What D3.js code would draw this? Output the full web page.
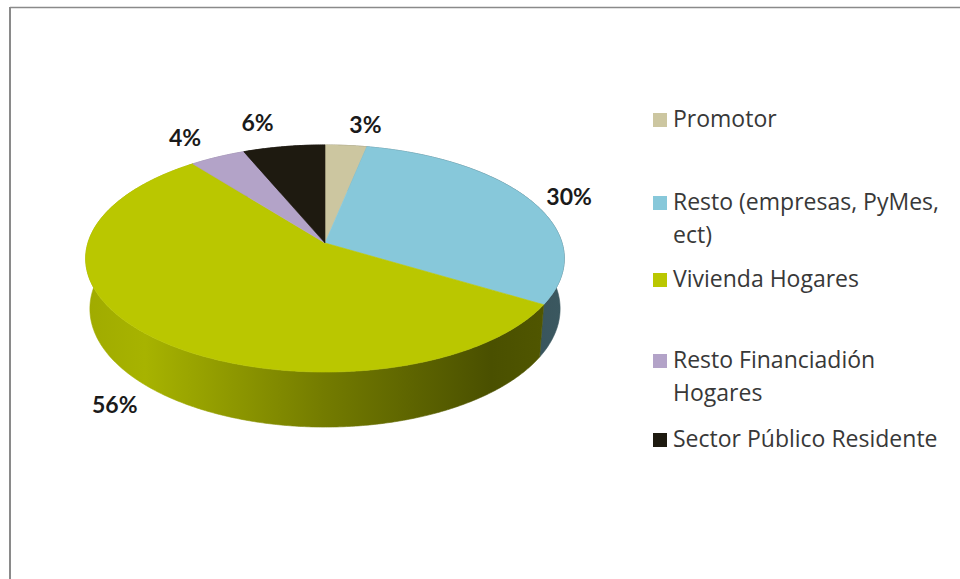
<!DOCTYPE html>
<html>
<head>
<meta charset="utf-8">
<script src="https://cdn.jsdelivr.net/npm/d3@7"></script>
<style>
  html, body { margin: 0; padding: 0; background: #fff; }
  svg { display: block; }
</style>
</head>
<body>
<svg id="chart" width="960" height="579"></svg>
<script>
// ---- data ----
const categories = ["Promotor", "Resto (empresas, PyMes, ect)", "Vivienda Hogares", "Resto Financiadión Hogares", "Sector Público Residente"];
const values = [3.2, 30.4, 55.8, 4.3, 6.3];
const legendLines = [["Promotor"], ["Resto (empresas, PyMes,", "ect)"], ["Vivienda Hogares"], ["Resto Financiadión", "Hogares"], ["Sector Público Residente"]];
const colors = ["#CCC6A0", "#87C8DA", "#BAC700", "#B3A3C8", "#1E1A10"];

// ---- layout / projection ----
const svg = d3.select("#chart");

// frame border (top & left visible)
svg.append("line").attr("x1", 10).attr("y1", 7.5).attr("x2", 960).attr("y2", 7.5)
  .attr("stroke", "#8a8a8a").attr("stroke-width", 1.5);
svg.append("line").attr("x1", 10).attr("y1", 7).attr("x2", 10).attr("y2", 579)
  .attr("stroke", "#8a8a8a").attr("stroke-width", 2);

const cx = 325, cy0 = 243;           // screen position of pie apex
const F = 1534, D = 6.47;            // perspective focal length & distance (unit radius)
const sinT = 0.47, cosT = 0.883;     // tilt
const depth = 0.2425;                // pie thickness (in radius units)

function proj(phi, h, r = 1) {
  const u = r * Math.sin(phi), v = r * Math.cos(phi);
  const yc = v * sinT - h * cosT;
  const zc = D + v * cosT + h * sinT;
  return [cx + F * u / zc, cy0 - F * yc / zc];
}

const pie = d3.pie().sort(null).value(d => d)(values);
const total = d3.sum(values);
const pct = d3.format(".0%");

function arcPoints(a0, a1, h) {
  const n = Math.max(2, Math.ceil((a1 - a0) / (Math.PI / 360)));
  return d3.range(n + 1).map(i => proj(a0 + (a1 - a0) * i / n, h));
}

const defs = svg.append("defs");
const shade = d3.scaleLinear().domain([0, 0.12, 0.5, 0.85, 1]).range([0.86, 0.9, 0.62, 0.4, 0.44]);
colors.forEach((c, i) => {
  const g = defs.append("linearGradient").attr("id", "side" + i)
    .attr("gradientUnits", "userSpaceOnUse")
    .attr("x1", proj(-Math.PI / 2, 0)[0]).attr("x2", proj(Math.PI / 2, 0)[0])
    .attr("y1", 0).attr("y2", 0);
  const base = d3.rgb(c);
  shade.domain().forEach(t => {
    const k = shade(t);
    g.append("stop").attr("offset", t)
      .attr("stop-color", d3.rgb(base.r * k, base.g * k, base.b * k).formatHex());
  });
});

const line = d3.line();

// side walls (back to front)
const sides = pie.map((d, i) => ({ d, i, mid: Math.cos((d.startAngle + d.endAngle) / 2) }))
  .sort((a, b) => b.mid - a.mid);
const gSide = svg.append("g");
sides.forEach(({ d, i }) => {
  const top = arcPoints(d.startAngle, d.endAngle, 0);
  const bot = arcPoints(d.startAngle, d.endAngle, depth).reverse();
  gSide.append("path")
    .attr("d", line(top.concat(bot)) + "Z")
    .attr("fill", `url(#side${i})`)
    .attr("stroke", `url(#side${i})`).attr("stroke-width", 0.6);
});

// top faces
const gTop = svg.append("g");
pie.forEach((d, i) => {
  const pts = [proj(0, 0, 0)].concat(arcPoints(d.startAngle, d.endAngle, 0));
  gTop.append("path")
    .attr("d", line(pts) + "Z")
    .attr("fill", colors[i])
    .attr("stroke", colors[i]).attr("stroke-width", 0.6);
});

// data labels (outside end)
const gLab = svg.append("g");
pie.forEach((d, i) => {
  const mid = (d.startAngle + d.endAngle) / 2;
  const lower = Math.cos(mid) < 0;
  const rim = proj(mid, lower ? depth : 0);
  let dx = rim[0] - cx, dy = rim[1] - cy0;
  const len = Math.hypot(dx, dy); dx /= len; dy /= len;
  const x = rim[0] + 16 * dx - (dx < 0 ? 4 : 0);
  const y = rim[1] + (dy < 0 ? 22 + 12 * Math.max(0, -dx) : 22) * dy;
  gLab.append("text")
    .attr("x", x).attr("y", y)
    .attr("text-anchor", dx >= 0 ? "start" : "end")
    .attr("dominant-baseline", "central")
    .attr("font-family", "Lato, 'Open Sans', sans-serif")
    .attr("font-weight", "bold")
    .attr("font-size", 23)
    .attr("fill", "#1a1a1a")
    .text(pct(d.value / total));
});

// legend
const gLeg = svg.append("g");
const legendBaselines = [127, 210, 287, 368, 447];
categories.forEach((c, i) => {
  const y = legendBaselines[i];
  gLeg.append("rect").attr("x", 653).attr("y", y - 14).attr("width", 14).attr("height", 14)
    .attr("fill", colors[i]);
  legendLines[i].forEach((t, j) => {
    gLeg.append("text")
      .attr("x", 673).attr("y", y + j * 33)
      .attr("font-family", "'Open Sans', sans-serif")
      .attr("font-size", 23)
      .attr("fill", "#383838")
      .text(t);
  });
});
</script>
</body>
</html>
